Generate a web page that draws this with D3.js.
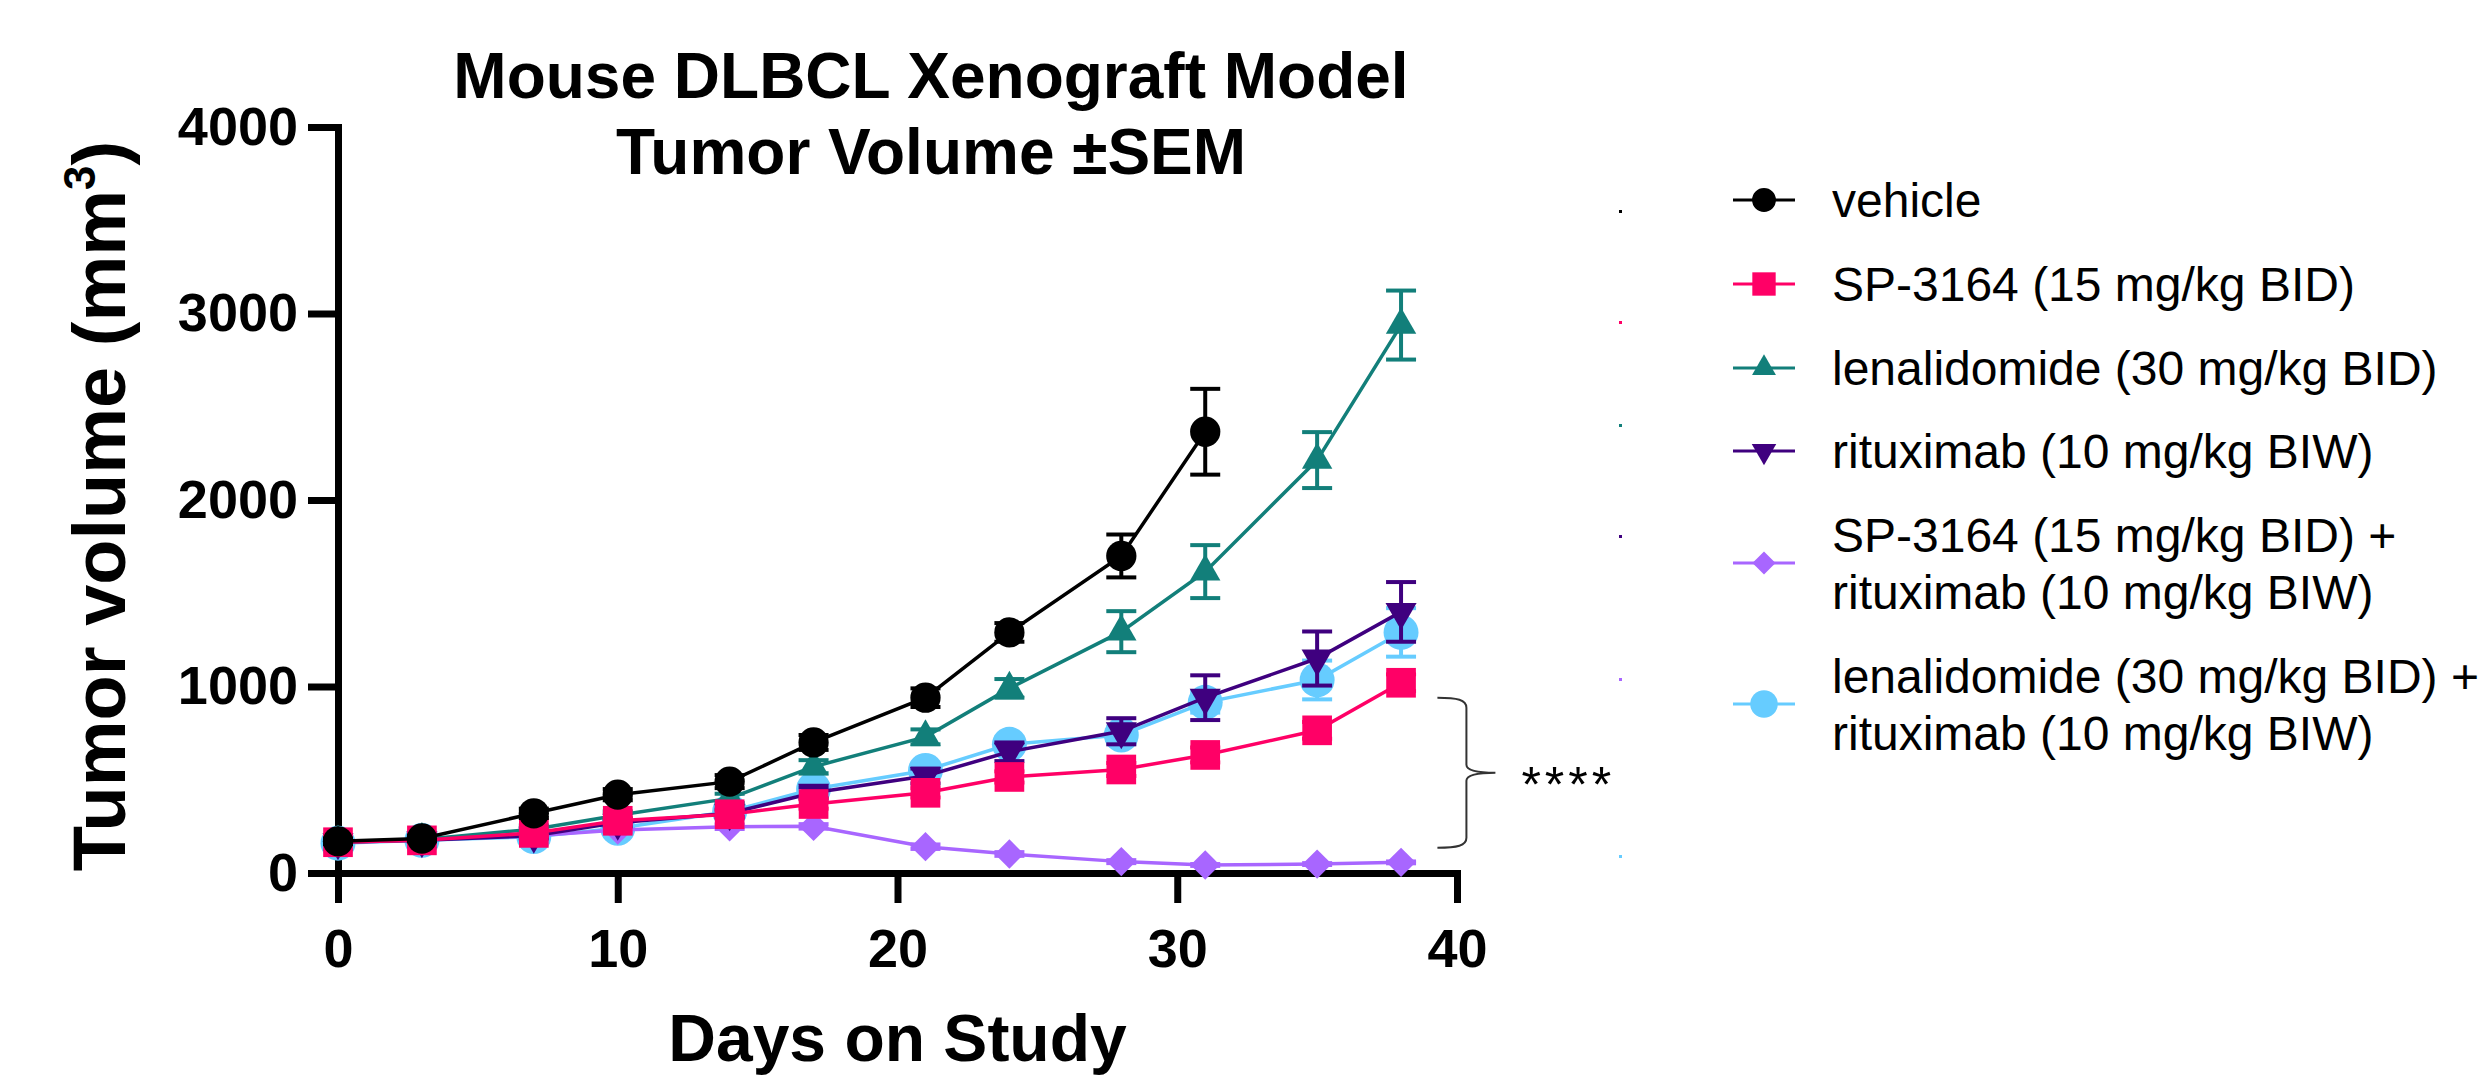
<!DOCTYPE html>
<html lang="en">
<head>
  <meta charset="utf-8">
  <title>Mouse DLBCL Xenograft Model</title>
  <script src="https://d3js.org/d3.v7.min.js"></script>
  <style>
    body { margin: 0; background: #fff; }
    svg text { font-family: "Liberation Sans", Arial, sans-serif; }
    .axis path, .axis line { stroke: #000; stroke-width: 7; }
    .axis path { stroke-linecap: square; }
    .axis text { font-size: 54px; font-weight: bold; fill: #000; }
  </style>
</head>
<body>
<div id="chart"></div>
<script>
"use strict"

// days on study
var days = [0, 3, 7, 10, 14, 17, 21, 24, 28, 31, 35, 38];

// mean tumor volume (mm3) per group, and SEM
var vehicle = [170, 185, 320, 420, 490, 700, 940, 1290, 1700, 2366];
var vehicleSem = [15, 15, 25, 30, 35, 40, 50, 50, 115, 230];
var sp3164 = [165, 175, 215, 280, 315, 370, 430, 515, 555, 633, 765, 1020];
var sp3164Sem = [10, 10, 15, 15, 20, 25, 25, 30, 35, 40, 45, 45];
var lenalidomide = [165, 180, 235, 310, 400, 570, 730, 990, 1294, 1616, 2214, 2938];
var lenalidomideSem = [10, 10, 20, 20, 25, 35, 40, 50, 110, 142, 150, 185];
var rituximab = [165, 175, 200, 270, 320, 430, 520, 650, 760, 940, 1150, 1400];
var rituximabSem = [10, 10, 15, 20, 20, 30, 40, 50, 70, 120, 145, 160];
var spRitux = [165, 178, 200, 230, 248, 250, 141, 102, 61, 43, 48, 57];
var spRituxSem = [10, 10, 10, 10, 12, 12, 12, 10, 8, 5, 5, 5];
var lenRitux = [160, 175, 195, 240, 330, 450, 550, 690, 740, 915, 1035, 1290];
var lenRituxSem = [10, 10, 15, 15, 20, 25, 30, 35, 45, 55, 104, 130];

var legendLabels = [
  ["vehicle"],
  ["SP-3164 (15 mg/kg BID)"],
  ["lenalidomide (30 mg/kg BID)"],
  ["rituximab (10 mg/kg BIW)"],
  ["SP-3164 (15 mg/kg BID) +", "rituximab (10 mg/kg BIW)"],
  ["lenalidomide (30 mg/kg BID) +", "rituximab (10 mg/kg BIW)"]
];
var xTicks = [0, 10, 20, 30, 40];
var yTicks = [0, 1000, 2000, 3000, 4000];

var width = 2486, height = 1077;

var svg = d3.select('#chart').append('svg')
  .attr('width', width)
  .attr('height', height);

var x = d3.scaleLinear().domain([0, 40]).range([338, 1457]);
var y = d3.scaleLinear().domain([0, 4000]).range([873, 127]);

var series = [
  { name: legendLabels[0], values: vehicle, sem: vehicleSem, color: "#000000", shape: "circle", size: 720 },
  { name: legendLabels[1], values: sp3164, sem: sp3164Sem, color: "#ff0066", shape: "square", size: 880 },
  { name: legendLabels[2], values: lenalidomide, sem: lenalidomideSem, color: "#127f7a", shape: "triangle", size: 400 },
  { name: legendLabels[3], values: rituximab, sem: rituximabSem, color: "#3f007f", shape: "down", size: 420 },
  { name: legendLabels[4], values: spRitux, sem: spRituxSem, color: "#a866ff", shape: "diamond", size: 430 },
  { name: legendLabels[5], values: lenRitux, sem: lenRituxSem, color: "#66ccff", shape: "circle", size: 960 }
];

function symbolPath(shape, size) {
  var t = d3.symbolCircle;
  if (shape == "square" || shape == "diamond") t = d3.symbolSquare;
  if (shape == "triangle" || shape == "down") t = d3.symbolTriangle;
  return d3.symbol().type(t).size(size)();
}
function symbolRotate(shape) {
  if (shape == "down") return " rotate(180)";
  if (shape == "diamond") return " rotate(45)";
  return "";
}

// axes
svg.append('g')
  .attr('class', 'axis')
  .attr('transform', 'translate(0,' + y(0) + ')')
  .call(d3.axisBottom(x).tickValues(xTicks).tickFormat(d3.format('d'))
    .tickSize(30).tickSizeOuter(0).tickPadding(26));

svg.append('g')
  .attr('class', 'axis')
  .attr('transform', 'translate(' + x(0) + ',0)')
  .call(d3.axisLeft(y).tickValues(yTicks).tickFormat(d3.format('d'))
    .tickSize(30).tickSizeOuter(0).tickPadding(10));

// series, drawn last-to-first so vehicle sits on top
var drawOrder = series.slice().reverse();
drawOrder.forEach(function(s) {
  var pts = s.values.map(function(v, i) { return { day: days[i], v: v, sem: s.sem[i] }; });
  var g = svg.append('g');

  g.append('path')
    .datum(pts)
    .attr('fill', 'none')
    .attr('stroke', s.color)
    .attr('stroke-width', 3.5)
    .attr('d', d3.line().x(d => x(d.day)).y(d => y(d.v)));

  var eb = g.selectAll('.eb').data(pts).enter().append('g');
  eb.append('line')
    .attr('x1', d => x(d.day)).attr('x2', d => x(d.day))
    .attr('y1', d => y(d.v + d.sem)).attr('y2', d => y(d.v - d.sem))
    .attr('stroke', s.color).attr('stroke-width', 4);
  eb.append('line')
    .attr('x1', d => x(d.day) - 15).attr('x2', d => x(d.day) + 15)
    .attr('y1', d => y(d.v + d.sem)).attr('y2', d => y(d.v + d.sem))
    .attr('stroke', s.color).attr('stroke-width', 4);
  eb.append('line')
    .attr('x1', d => x(d.day) - 15).attr('x2', d => x(d.day) + 15)
    .attr('y1', d => y(d.v - d.sem)).attr('y2', d => y(d.v - d.sem))
    .attr('stroke', s.color).attr('stroke-width', 4);

  g.selectAll('.pt').data(pts).enter().append('path')
    .attr('d', symbolPath(s.shape, s.size))
    .attr('transform', d => 'translate(' + x(d.day) + ',' + y(d.v) + ')' + symbolRotate(s.shape))
    .attr('fill', s.color);
});

// significance bracket
var brDay = 39.3, brTop = 940, brBottom = 135;
var bx = x(brDay), by0 = y(brTop), by1 = y(brBottom), bm = (by0 + by1) / 2;
svg.append('path')
  .attr('fill', 'none')
  .attr('stroke', '#333')
  .attr('stroke-width', 2)
  .attr('d', 'M' + bx + ',' + by0 +
    ' C' + (bx + 20) + ',' + by0 + ' ' + (bx + 29) + ',' + (by0 + 2) + ' ' + (bx + 29) + ',' + (by0 + 10) +
    ' L' + (bx + 29) + ',' + (bm - 8) +
    ' C' + (bx + 29) + ',' + (bm - 2) + ' ' + (bx + 40) + ',' + bm + ' ' + (bx + 58) + ',' + bm +
    ' C' + (bx + 40) + ',' + bm + ' ' + (bx + 29) + ',' + (bm + 2) + ' ' + (bx + 29) + ',' + (bm + 8) +
    ' L' + (bx + 29) + ',' + (by1 - 10) +
    ' C' + (bx + 29) + ',' + (by1 - 2) + ' ' + (bx + 20) + ',' + by1 + ' ' + bx + ',' + by1);
svg.append('text')
  .attr('x', bx + 84)
  .attr('y', bm + 29)
  .attr('font-size', 50)
  .attr('letter-spacing', 4)
  .text('****');

// titles
svg.append('text')
  .attr('x', 931).attr('y', 98)
  .attr('text-anchor', 'middle')
  .attr('font-size', 64).attr('font-weight', 'bold')
  .text('Mouse DLBCL Xenograft Model');
svg.append('text')
  .attr('x', 931).attr('y', 174)
  .attr('text-anchor', 'middle')
  .attr('font-size', 64).attr('font-weight', 'bold')
  .text('Tumor Volume \u00B1SEM');

svg.append('text')
  .attr('x', (x(0) + x(40)) / 2).attr('y', 1061)
  .attr('text-anchor', 'middle')
  .attr('font-size', 66).attr('font-weight', 'bold')
  .text('Days on Study');

var yt = svg.append('text')
  .attr('transform', 'translate(125,506) rotate(-90)')
  .attr('text-anchor', 'middle')
  .attr('font-size', 74).attr('font-weight', 'bold');
yt.append('tspan').text('Tumor volume (mm');
yt.append('tspan').attr('font-size', 44).attr('dy', -30).text('3');
yt.append('tspan').attr('dy', 30).text(')');

// legend
var legendY = [200, 284, 368, 451, 563, 704];
var legendDots = [211, 322, 425, 536, 679, 856];
var legend = svg.append('g');
series.forEach(function(s, i) {
  var ly = legendY[i];
  legend.append('line')
    .attr('x1', 1733).attr('x2', 1795)
    .attr('y1', ly).attr('y2', ly)
    .attr('stroke', s.color).attr('stroke-width', 3);
  legend.append('path')
    .attr('d', symbolPath(s.shape, s.size * 0.62))
    .attr('transform', 'translate(1764,' + ly + ')' + symbolRotate(s.shape))
    .attr('fill', s.color);
  var lines = s.name;
  lines.forEach(function(t, j) {
    legend.append('text')
      .attr('x', 1832)
      .attr('y', ly + 17 + (j - (lines.length - 1) / 2) * 57)
      .attr('font-size', 48)
      .text(t);
  });
  legend.append('rect')
    .attr('x', 1619).attr('y', legendDots[i] - 1)
    .attr('width', 3).attr('height', 3)
    .attr('fill', s.color);
});
</script>
</body>
</html>
